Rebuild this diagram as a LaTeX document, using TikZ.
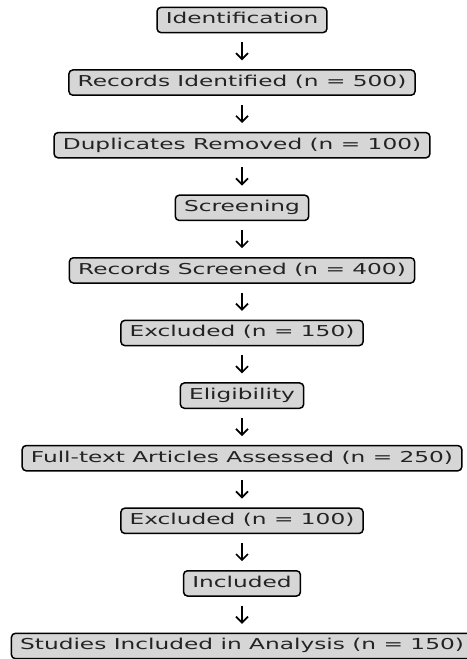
\documentclass[tikz,border=0pt]{standalone}
\usepackage{fontspec}
\setmainfont{DejaVu Sans}[FakeStretch=1.55]
\usetikzlibrary{arrows.meta}
\definecolor{boxfill}{RGB}{214,214,214}
\definecolor{txt}{RGB}{35,35,35}
\tikzset{
  stagebox/.style={draw=black, line width=1.5bp, fill=boxfill, rounded corners=4bp,
    text=txt, font=\fontsize{15bp}{18bp}\selectfont,
    inner xsep=8.75bp, inner ysep=4bp, text height=12.6bp, text depth=4.7bp},
  flowarrow/.style={draw=black, line width=1.7bp,
    -{Straight Barb[length=6bp,width=12bp,line width=1.7bp]},
    shorten <=8.8bp, shorten >=8.8bp}
}
\begin{document}
\begin{tikzpicture}[x=1bp,y=-1bp]
\useasboundingbox (0,0) rectangle (467,659);
\node[stagebox] (n0) at (242,20.0) {Identification};
\node[stagebox] (n1) at (242,82.6) {Records Identified (n = 500)};
\node[stagebox] (n2) at (242,145.2) {Duplicates Removed (n = 100)};
\node[stagebox] (n3) at (242,207.8) {Screening};
\node[stagebox] (n4) at (242,270.4) {Records Screened (n = 400)};
\node[stagebox] (n5) at (242,333.0) {Excluded (n = 150)};
\node[stagebox] (n6) at (242,395.6) {Eligibility};
\node[stagebox] (n7) at (242,458.2) {Full-text Articles Assessed (n = 250)};
\node[stagebox] (n8) at (242,520.8) {Excluded (n = 100)};
\node[stagebox] (n9) at (242,583.4) {Included};
\node[stagebox] (n10) at (242,646.0) {Studies Included in Analysis (n = 150)};
\foreach \a/\b in {n0/n1,n1/n2,n2/n3,n3/n4,n4/n5,n5/n6,n6/n7,n7/n8,n8/n9,n9/n10}
  \draw[flowarrow] (\a.south) -- (\b.north);
\end{tikzpicture}
\end{document}
